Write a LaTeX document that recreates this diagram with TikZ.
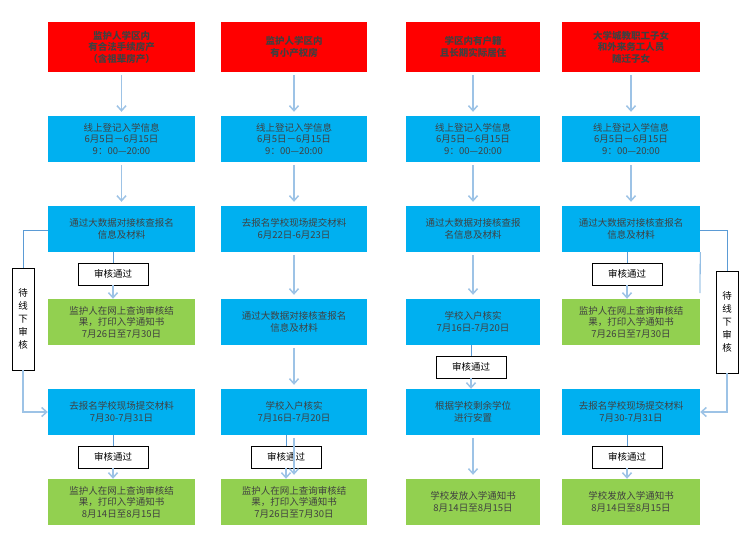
\documentclass[tikz,border=0pt]{standalone}
\usepackage{fontspec}
\setmainfont{Noto Sans CJK SC}
\usetikzlibrary{arrows.meta}
\definecolor{topred}{HTML}{FF0000}
\definecolor{stepblue}{HTML}{00B0F0}
\definecolor{stepgreen}{HTML}{92D050}
\definecolor{flowline}{HTML}{9DC3E6}
\definecolor{passline}{HTML}{5B9BD5}
\begin{document}
\begin{tikzpicture}[x=1pt,y=-1pt,
  box/.style={minimum height=46pt,inner sep=1pt,align=center,text=black!75,font=\fontsize{9.5}{11.5}\selectfont},
  head/.style={box,fill=topred,minimum height=50pt,font=\bfseries\fontsize{9.5}{11.5}\selectfont},
  bluebox/.style={box,fill=stepblue},
  greenbox/.style={box,fill=stepgreen},
  pass/.style={draw,fill=white,minimum width=70pt,minimum height=22pt,inner sep=0pt,font=\fontsize{9.5}{11}\selectfont},
  side/.style={draw,fill=white,minimum width=22pt,minimum height=102pt,inner sep=0pt,align=center,font=\fontsize{9.5}{13}\selectfont},
  flow/.style={draw=flowline,line width=1.5pt,-{Straight Barb[length=5pt,width=9pt]}},
  thin/.style={draw=passline,line width=0.8pt},
  thinarrow/.style={draw=flowline,line width=1.5pt,-{Straight Barb[length=5pt,width=9pt]}}]
\useasboundingbox (0,0) rectangle (750,541);
% column 1
\node[head,minimum width=147pt] (a0) at (121.5,47) {监护人学区内\\有合法手续房产\\（含祖辈房产）};
\node[bluebox,minimum width=147pt] (a1) at (121.5,139) {线上登记入学信息\\6月5日－6月15日\\9：00—20:00};
\node[bluebox,minimum width=147pt] (a2) at (121.5,229) {通过大数据对接核查报名\\信息及材料};
\node[greenbox,minimum width=147pt] (a3) at (121.5,322) {监护人在网上查询审核结\\果，打印入学通知书\\7月26日至7月30日};
\node[bluebox,minimum width=147pt] (a4) at (121.5,412) {去报名学校现场提交材料\\7月30-7月31日};
\node[greenbox,minimum width=147pt] (a5) at (121.5,502) {监护人在网上查询审核结\\果，打印入学通知书\\8月14日至8月15日};
\node[pass] (ap1) at (113,274) {审核通过};
\node[pass] (ap2) at (113,457) {审核通过};
\node[side] (aw) at (23,319) {待\\线\\下\\审\\核};
% column 2
\node[head,minimum width=146pt] (b0) at (294,47) {监护人学区内\\有小产权房};
\node[bluebox,minimum width=146pt] (b1) at (294,139) {线上登记入学信息\\6月5日－6月15日\\9：00—20:00};
\node[bluebox,minimum width=146pt] (b2) at (294,229) {去报名学校现场提交材料\\6月22日-6月23日};
\node[bluebox,minimum width=146pt] (b3) at (294,322) {通过大数据对接核查报名\\信息及材料};
\node[bluebox,minimum width=146pt] (b4) at (294,412) {学校入户核实\\7月16日-7月20日};
\node[greenbox,minimum width=146pt] (b5) at (294,502) {监护人在网上查询审核结\\果，打印入学通知书\\7月26日至7月30日};
\node[pass] (bp1) at (286,457) {审核通过};
% column 3
\node[head,minimum width=134pt] (c0) at (473,47) {学区内有户籍\\且长期实际居住};
\node[bluebox,minimum width=134pt] (c1) at (473,139) {线上登记入学信息\\6月5日－6月15日\\9：00—20:00};
\node[bluebox,minimum width=134pt] (c2) at (473,229) {通过大数据对接核查报\\名信息及材料};
\node[bluebox,minimum width=134pt] (c3) at (473,322) {学校入户核实\\7月16日-7月20日};
\node[bluebox,minimum width=134pt] (c4) at (473,412) {根据学校剩余学位\\进行安置};
\node[greenbox,minimum width=134pt] (c5) at (473,502) {学校发放入学通知书\\8月14日至8月15日};
\node[pass] (cp1) at (471,367) {审核通过};
% column 4
\node[head,minimum width=138pt] (d0) at (631,47) {大学城教职工子女\\和外来务工人员\\随迁子女};
\node[bluebox,minimum width=138pt] (d1) at (631,139) {线上登记入学信息\\6月5日－6月15日\\9：00—20:00};
\node[bluebox,minimum width=138pt] (d2) at (631,229) {通过大数据对接核查报名\\信息及材料};
\node[greenbox,minimum width=138pt] (d3) at (631,322) {监护人在网上查询审核结\\果，打印入学通知书\\7月26日至7月30日};
\node[bluebox,minimum width=138pt] (d4) at (631,412) {去报名学校现场提交材料\\7月30-7月31日};
\node[greenbox,minimum width=138pt] (d5) at (631,502) {学校发放入学通知书\\8月14日至8月15日};
\node[pass] (dp1) at (627,274) {审核通过};
\node[pass] (dp2) at (627,457) {审核通过};
\node[side] (dw) at (727,322) {待\\线\\下\\审\\核};
% plain arrows
\foreach \c in {a,b,c,d}{
  \draw[flow] ([yshift=-3pt]\c0.south) -- ([yshift=4pt]\c1.north);
  \draw[flow] ([yshift=-3pt]\c1.south) -- ([yshift=4pt]\c2.north);
}
\foreach \p/\q in {b2/b3,b3/b4,b4/b5,c2/c3,c4/c5}
  \draw[flow] ([yshift=-3pt]\p.south) -- ([yshift=4pt]\q.north);
% review passed
\foreach \p/\l/\q in {a2/ap1/a3,a4/ap2/a5,b4/bp1/b5,c3/cp1/c4,d2/dp1/d3,d4/dp2/d5}{
  \draw[thin] (\p.south -| \l) -- (\l.north);
  \draw[thinarrow] (\l.south) -- (\q.north -| \l);
}
% offline review
\draw[thin] ([yshift=-1pt]a2.west) -| (aw.north);
\draw[thinarrow] (aw.south) |- (a4.west);
\draw[thin] ([yshift=-1pt]d2.east) -| (dw.north);
\draw[thinarrow] (dw.south) |- (d4.east);
\coordinate (dl) at (700,293);
\draw[thin] (d2.south east) -- (dl);
\end{tikzpicture}
\end{document}
